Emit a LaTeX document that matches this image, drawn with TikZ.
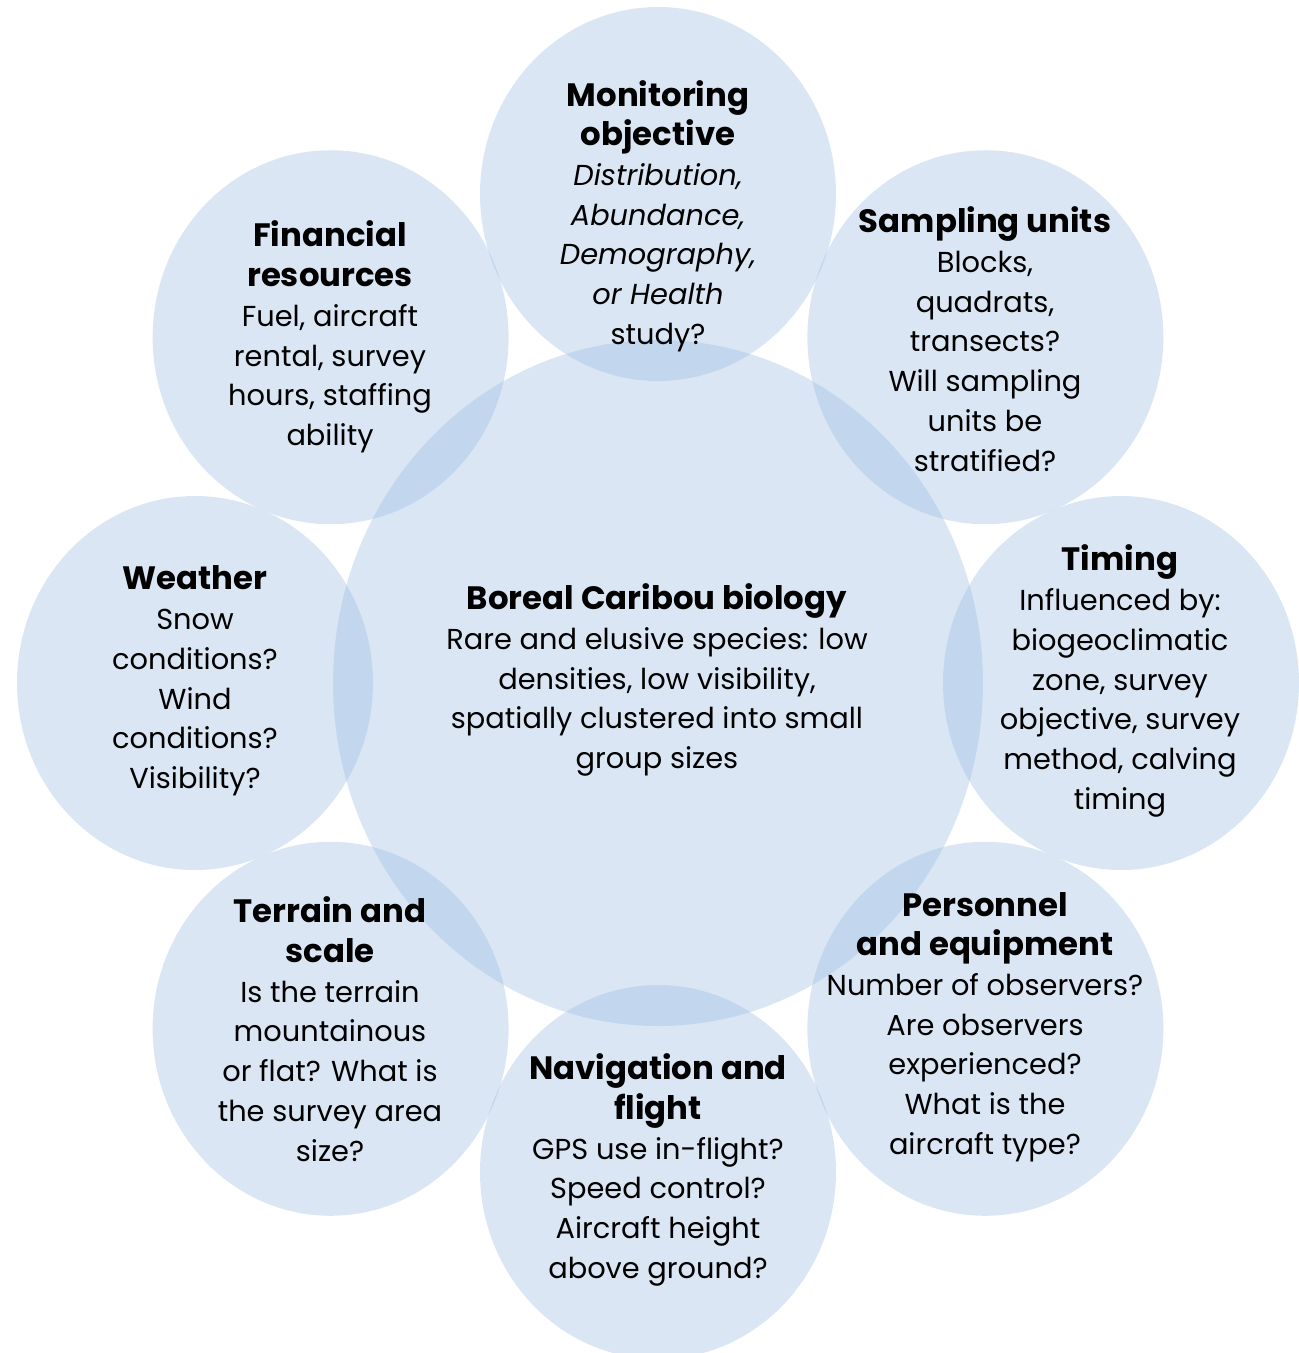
\documentclass[tikz,border=0pt]{standalone}
\usepackage{fontspec}
\setmainfont{Poppins}
\usepackage{tikz}
\definecolor{petalblue}{RGB}{149,184,224}
\tikzstyle{petal} = [fill=petalblue, fill opacity=0.35]
\tikzstyle{petaltext} = [align=center, inner sep=0pt, font=\fontsize{8.2}{11.3}\selectfont]
\newcommand{\hd}[1]{{\fontsize{9.2}{11.3}\selectfont\bfseries #1}}

\begin{document}
\begin{tikzpicture}[x=0.01cm, y=-0.01cm]
	\useasboundingbox (0,0) rectangle (1299,1353);
	% central circle and the eight petals
	\fill[petal] (658,683) ellipse [x radius=325, y radius=343];
	\foreach \a in {0,45,...,315}
		\fill[petal] ({658+463*sin(\a)},{683-489*cos(\a)}) ellipse [x radius=178, y radius=187];
	% texts
	\node[petaltext] (bio) at (657,680) {\hd{Boreal Caribou biology}\\Rare and elusive species: low\\densities, low visibility,\\spatially clustered into small\\group sizes};
	\node[petaltext] (mon) at (658,216) {\hd{Monitoring}\\\hd{objective}\\\textit{Distribution,}\\\textit{Abundance,}\\\textit{Demography,}\\\textit{or Health}\\study?};
	\node[petaltext] (samp) at (985,339) {\hd{Sampling units}\\Blocks,\\quadrats,\\transects?\\Will sampling\\units be\\stratified?};
	\node[petaltext] (tim) at (1120,681) {\hd{Timing}\\Influenced by:\\biogeoclimatic\\zone, survey\\objective, survey\\method, calving\\timing};
	\node[petaltext] (pers) at (985,1027) {\hd{Personnel}\\\hd{and equipment}\\Number of observers?\\Are observers\\experienced?\\What is the\\aircraft type?};
	\node[petaltext] (nav) at (658,1170) {\hd{Navigation and}\\\hd{flight}\\GPS use in-flight?\\Speed control?\\Aircraft height\\above ground?};
	\node[petaltext] (ter) at (330,1029) {\hd{Terrain and}\\\hd{scale}\\Is the terrain\\mountainous\\or flat? What is\\the survey area\\size?};
	\node[petaltext] (wea) at (195,681) {\hd{Weather}\\Snow\\conditions?\\Wind\\conditions?\\Visibility?};
	\node[petaltext] (fin) at (330,337) {\hd{Financial}\\\hd{resources}\\Fuel, aircraft\\rental, survey\\hours, staffing\\ability};
\end{tikzpicture}
\end{document}
